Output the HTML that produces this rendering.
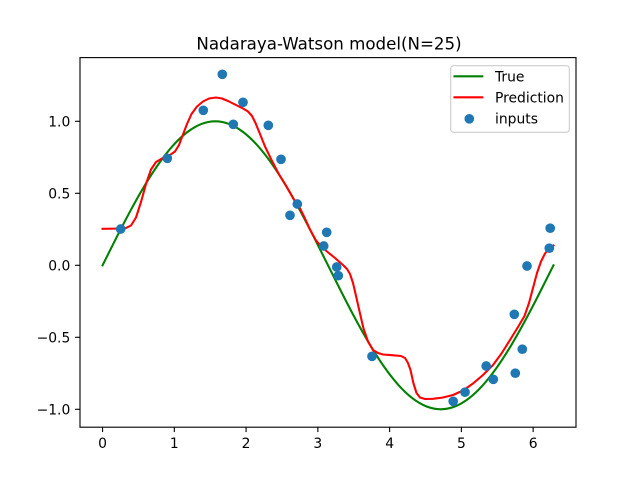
<!DOCTYPE html>
<html>
<head>
<meta charset="utf-8">
<style>
html,body{margin:0;padding:0;background:#fff;}
svg{display:block;}
text{font-family:"DejaVu Sans","Liberation Sans",sans-serif;fill:#000;}
</style>
</head>
<body>
<svg width="640" height="480" viewBox="0 0 640 480" xmlns="http://www.w3.org/2000/svg">
<rect x="0" y="0" width="640" height="480" fill="#fff"/>
<text x="329" y="49.5" font-size="16.67" text-anchor="middle">Nadaraya-Watson model(N=25)</text>

<!-- True curve -->
<path fill="none" stroke="#008000" stroke-width="2.08" stroke-linecap="square" d="M102.55 265.3
C107.25 255.88 111.94 246.45 116.64 237.21
C121.34 227.97 126.03 218.90 130.73 210.19
C135.43 201.48 140.12 193.14 144.82 185.30
C149.52 177.46 154.21 170.15 158.91 163.48
C163.61 156.82 168.31 150.81 173.01 145.57
C177.71 140.33 182.40 135.87 187.10 132.26
C191.80 128.65 196.49 125.91 201.19 124.07
C205.89 122.23 210.58 121.3 215.28 121.3
C219.98 121.3 224.67 122.23 229.37 124.07
C234.07 125.91 238.76 128.65 243.46 132.26
C248.16 135.87 252.85 140.33 257.55 145.57
C262.25 150.81 266.94 156.82 271.64 163.48
C276.34 170.15 281.03 177.46 285.73 185.30
C290.43 193.14 295.12 201.48 299.82 210.19
C304.52 218.90 309.22 227.97 313.92 237.21
C318.62 246.45 323.31 255.88 328.01 265.3
C332.71 274.73 337.40 284.15 342.10 293.39
C346.80 302.63 351.49 311.70 356.19 320.41
C360.89 329.12 365.58 337.46 370.28 345.30
C374.98 353.14 379.67 360.46 384.37 367.12
C389.07 373.79 393.76 379.79 398.46 385.03
C403.16 390.27 407.85 394.73 412.55 398.34
C417.25 401.95 421.94 404.69 426.64 406.53
C431.34 408.37 436.03 409.3 440.73 409.3
C445.43 409.3 450.13 408.37 454.83 406.53
C459.53 404.69 464.22 401.95 468.92 398.34
C473.62 394.73 478.31 390.27 483.01 385.03
C487.71 379.79 492.40 373.79 497.10 367.12
C501.80 360.46 506.49 353.14 511.19 345.30
C515.89 337.46 520.58 329.12 525.28 320.41
C529.98 311.70 534.67 302.63 539.37 293.39
C544.07 284.15 548.76 274.73 553.46 265.3"/>

<!-- Prediction curve -->
<polyline fill="none" stroke="#ff0000" stroke-width="2.08" stroke-linejoin="round" stroke-linecap="square" points="
102.55,228.8 125,228.5 131,225.5 136,217.5 141,202 146,184 151,169.5 156,162 162,158.5 170,155 175,151.5 179,145 183,134.5 187,124 191.5,114 197,106.5 203,101.5 209,98.5 216,97.5 222,98.5 228,101 235,104.5 243,108.5 248,111.5 252,116 255.5,123 260,134 265,146.5 271.5,160 278.5,173.5 286.5,186.5 293,198 300,208.3 305,218.5 310,229.5 316,240.5 321,246 327,251.5 335,258 343,265 347,269 350,274 353,283 356.5,298 360,313.5 363.5,328.5 368,341.5 373,350 378,353 383,354.5 392,355.2 401,356 405,358 408,363 410.5,370 413.5,383.5 416.5,393 420,397.5 425,399 433,398.8 443,397.5 453,395 463,390.5 473,383.5 483,375 493,365 501.5,353.5 510,340 518,327 524.5,316 529,303 533,288 537,273 541,261.5 545,253.5 550,247.5 553.5,245.5"/>

<!-- Scatter points -->
<g fill="#1f77b4">
<circle cx="120.7" cy="229" r="4.85"/>
<circle cx="167.3" cy="158.3" r="4.85"/>
<circle cx="203.3" cy="110.3" r="4.85"/>
<circle cx="222.3" cy="74.3" r="4.85"/>
<circle cx="233.3" cy="124.3" r="4.85"/>
<circle cx="243" cy="102.3" r="4.85"/>
<circle cx="268.3" cy="125.3" r="4.85"/>
<circle cx="281" cy="159.3" r="4.85"/>
<circle cx="290" cy="215.3" r="4.85"/>
<circle cx="297.3" cy="204" r="4.85"/>
<circle cx="326.7" cy="232.3" r="4.85"/>
<circle cx="323.7" cy="246" r="4.85"/>
<circle cx="336.7" cy="267" r="4.85"/>
<circle cx="338.3" cy="275.7" r="4.85"/>
<circle cx="372" cy="356.3" r="4.85"/>
<circle cx="453.2" cy="401.3" r="4.85"/>
<circle cx="465" cy="392.2" r="4.85"/>
<circle cx="486.2" cy="366" r="4.85"/>
<circle cx="493.3" cy="379.3" r="4.85"/>
<circle cx="514.3" cy="314.3" r="4.85"/>
<circle cx="515.3" cy="373.2" r="4.85"/>
<circle cx="522.3" cy="349.2" r="4.85"/>
<circle cx="527" cy="266" r="4.85"/>
<circle cx="550.2" cy="228.2" r="4.85"/>
<circle cx="549.3" cy="248.2" r="4.85"/>
</g>

<!-- Axes frame -->
<rect x="80" y="57.6" width="496" height="369.6" fill="none" stroke="#000" stroke-width="1.11"/>

<!-- Ticks -->
<g stroke="#000" stroke-width="1.11">
<line x1="102.55" y1="427.2" x2="102.55" y2="432.06"/>
<line x1="174.32" y1="427.2" x2="174.32" y2="432.06"/>
<line x1="246.08" y1="427.2" x2="246.08" y2="432.06"/>
<line x1="317.85" y1="427.2" x2="317.85" y2="432.06"/>
<line x1="389.61" y1="427.2" x2="389.61" y2="432.06"/>
<line x1="461.38" y1="427.2" x2="461.38" y2="432.06"/>
<line x1="533.14" y1="427.2" x2="533.14" y2="432.06"/>
<line x1="80" y1="121.3" x2="75.14" y2="121.3"/>
<line x1="80" y1="193.3" x2="75.14" y2="193.3"/>
<line x1="80" y1="265.3" x2="75.14" y2="265.3"/>
<line x1="80" y1="337.3" x2="75.14" y2="337.3"/>
<line x1="80" y1="409.3" x2="75.14" y2="409.3"/>
</g>
<g font-size="13.89" text-anchor="middle">
<text x="102.55" y="448">0</text>
<text x="174.32" y="448">1</text>
<text x="246.08" y="448">2</text>
<text x="317.85" y="448">3</text>
<text x="389.61" y="448">4</text>
<text x="461.38" y="448">5</text>
<text x="533.14" y="448">6</text>
</g>
<g font-size="13.89" text-anchor="end">
<text x="70.3" y="126.3">1.0</text>
<text x="70.3" y="198.3">0.5</text>
<text x="70.3" y="270.3">0.0</text>
<text x="70.3" y="342.3">−0.5</text>
<text x="70.3" y="414.3">−1.0</text>
</g>

<!-- Legend -->
<rect x="450.7" y="65.7" width="118.6" height="66.6" rx="2.8" ry="2.8" fill="#fff" fill-opacity="0.8" stroke="#cccccc" stroke-width="1.11"/>
<line x1="454.5" y1="76.3" x2="482.3" y2="76.3" stroke="#008000" stroke-width="2.08" stroke-linecap="square"/>
<line x1="454.5" y1="97.3" x2="482.3" y2="97.3" stroke="#ff0000" stroke-width="2.08" stroke-linecap="square"/>
<circle cx="469.3" cy="118.8" r="4.85" fill="#1f77b4"/>
<g font-size="13.89">
<text x="495" y="81.3">True</text>
<text x="495" y="102.3">Prediction</text>
<text x="495" y="123.5">inputs</text>
</g>
</svg>
</body>
</html>
